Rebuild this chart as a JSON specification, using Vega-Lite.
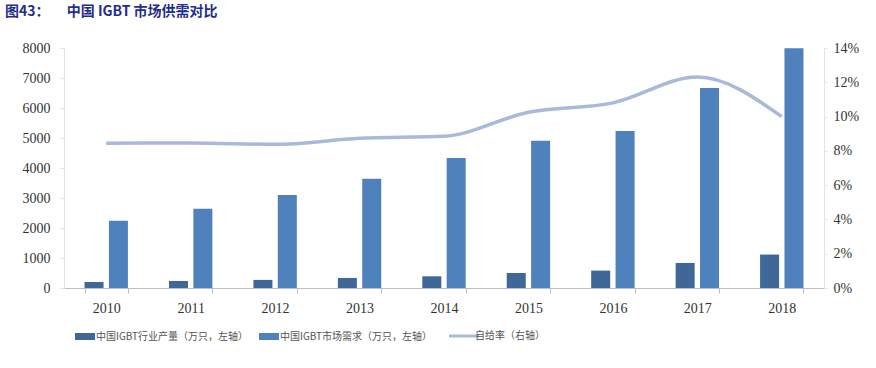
{
  "$schema": "https://vega.github.io/schema/vega-lite/v6.json",
  "width": 760,
  "height": 240,
  "autosize": {"type": "none"},
  "padding": {"left": 64, "top": 48, "right": 52, "bottom": 80},
  "background": "white",
  "config": {"view": {"stroke": null}},
  "title": {
    "text": "图43：    　中国 IGBT 市场供需对比",
    "anchor": "start",
    "frame": "group",
    "dx": -59,
    "offset": 22,
    "font": "Noto Sans CJK SC",
    "fontSize": 14,
    "fontWeight": "bold",
    "color": "#1F2E8A"
  },
  "data": {
    "values": [
      {"year": "2010", "production": 200, "demand": 2240, "ratio": 0.0845},
      {"year": "2011", "production": 235, "demand": 2640, "ratio": 0.0846},
      {"year": "2012", "production": 270, "demand": 3100, "ratio": 0.0838},
      {"year": "2013", "production": 335, "demand": 3640, "ratio": 0.0873},
      {"year": "2014", "production": 390, "demand": 4330, "ratio": 0.0885},
      {"year": "2015", "production": 500, "demand": 4910, "ratio": 0.1025},
      {"year": "2016", "production": 580, "demand": 5230, "ratio": 0.108},
      {"year": "2017", "production": 835, "demand": 6670, "ratio": 0.1231},
      {"year": "2018", "production": 1115, "demand": 7990, "ratio": 0.100}
    ]
  },
  "encoding": {
    "x": {
      "field": "year",
      "type": "nominal",
      "scale": {"paddingInner": 0.486, "paddingOuter": 0.243},
      "axis": {
        "title": null,
        "labelAngle": 0,
        "domainColor": "#BFBFBF",
        "tickColor": "#BFBFBF",
        "tickSize": 5,
        "tickBand": "extent",
        "labelFont": "Liberation Serif",
        "labelFontSize": 14,
        "labelColor": "#333333",
        "labelPadding": 8
      }
    }
  },
  "layer": [
    {
      "transform": [{"fold": ["production", "demand"], "as": ["series", "value"]}],
      "mark": {"type": "bar"},
      "encoding": {
        "xOffset": {
          "field": "series",
          "type": "nominal",
          "sort": ["production", "demand"],
          "scale": {"paddingInner": 0.22}
        },
        "y": {
          "field": "value",
          "type": "quantitative",
          "scale": {"domain": [0, 8000]},
          "axis": {
            "title": null,
            "grid": false,
            "format": "d",
            "values": [0, 1000, 2000, 3000, 4000, 5000, 6000, 7000, 8000],
            "domainColor": "#E6E3D8",
            "tickColor": "#E6E3D8",
            "tickSize": 4,
            "labelFont": "Liberation Serif",
            "labelFontSize": 14,
            "labelColor": "#333333",
            "labelPadding": 10
          }
        },
        "color": {
          "field": "series",
          "type": "nominal",
          "scale": {
            "domain": ["production", "demand", "ratio"],
            "range": ["#3F6899", "#4F81BD", "#A9B9DA"]
          },
          "legend": {
            "orient": "none",
            "legendX": 16,
            "legendY": 283,
            "direction": "horizontal",
            "title": null,
            "labelExpr": "datum.value == 'production' ? '中国IGBT行业产量（万只，左轴）' : datum.value == 'demand' ? '中国IGBT市场需求（万只，左轴）' : '自给率（右轴）'",
            "labelFont": "Noto Sans CJK SC",
            "labelFontSize": 10,
            "labelColor": "#555555",
            "labelLimit": 300,
            "labelOffset": 6,
            "symbolSize": 400,
            "symbolOffset": 0,
            "columnPadding": 10,
            "encode": {
              "symbols": {
                "update": {
                  "shape": {"signal": "datum.value == 'ratio' ? 'M-1.5,0H1.5' : 'M-1,-0.35H1V0.35H-1Z'"},
                  "stroke": {"scale": "color", "field": "value"},
                  "strokeWidth": {"signal": "datum.value == 'ratio' ? 3 : 0"},
                  "opacity": {"value": 1}
                }
              }
            }
          }
        }
      }
    },
    {
      "mark": {"type": "line", "interpolate": "monotone", "strokeWidth": 3.5},
      "encoding": {
        "y": {
          "field": "ratio",
          "type": "quantitative",
          "scale": {"domain": [0, 0.14]},
          "axis": {
            "orient": "right",
            "title": null,
            "grid": false,
            "format": ".0%",
            "values": [0, 0.02, 0.04, 0.06, 0.08, 0.10, 0.12, 0.14],
            "domainColor": "#E6E3D8",
            "tickColor": "#E6E3D8",
            "tickSize": 3,
            "labelFont": "Liberation Serif",
            "labelFontSize": 14,
            "labelColor": "#333333",
            "labelPadding": 6
          }
        },
        "color": {"datum": "ratio"}
      }
    }
  ],
  "resolve": {"scale": {"y": "independent"}}
}
